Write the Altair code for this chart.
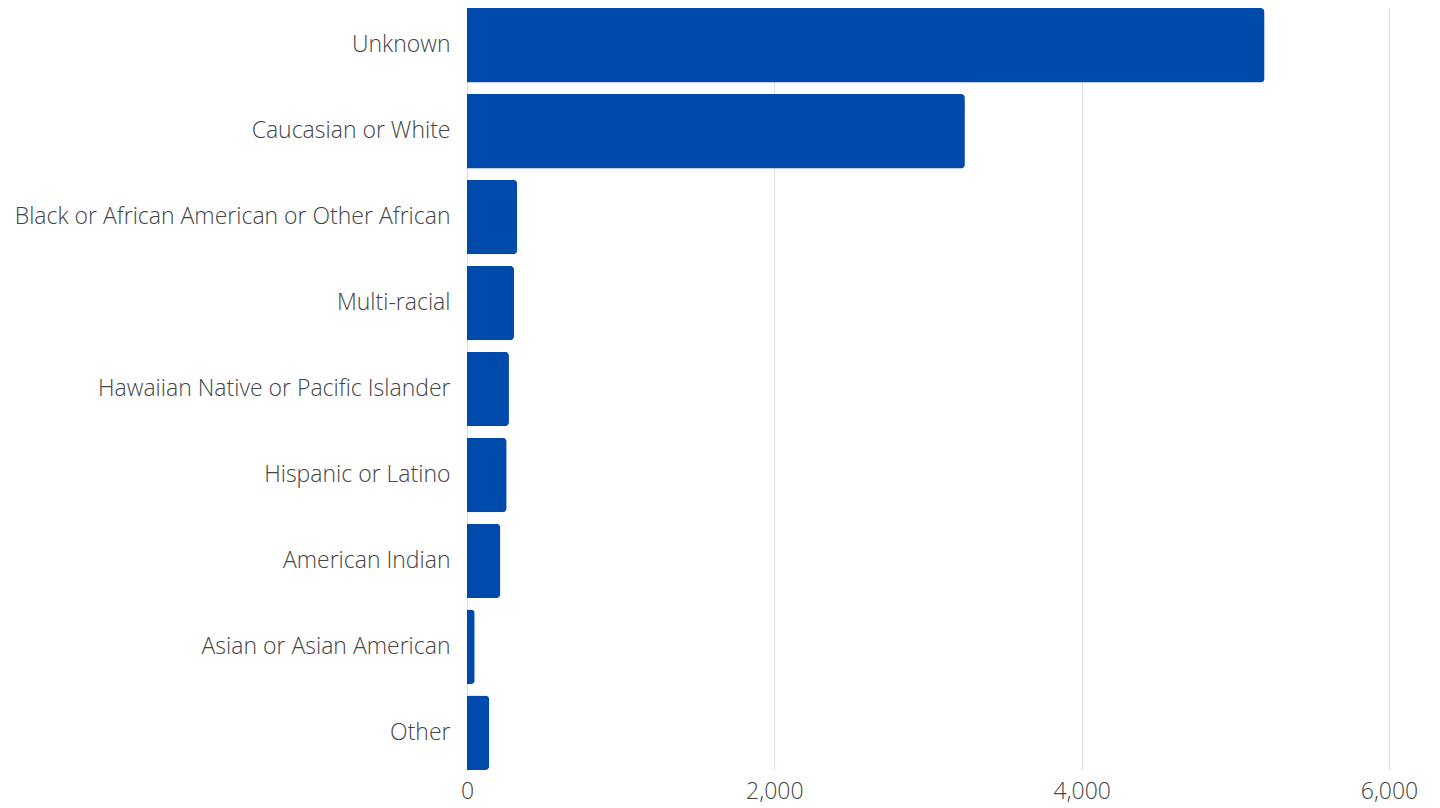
import altair as alt
import pandas as pd

categories = [
    "Unknown",
    "Caucasian or White",
    "Black or African American or Other African",
    "Multi-racial",
    "Hawaiian Native or Pacific Islander",
    "Hispanic or Latino",
    "American Indian",
    "Asian or Asian American",
    "Other",
]
counts = [5190, 3240, 327, 306, 273, 258, 217, 50, 145]

df = pd.DataFrame({"category": categories, "count": counts})

chart = (
    alt.Chart(df)
    .mark_bar(color="#004AAC", cornerRadiusEnd=4)
    .encode(
        y=alt.Y(
            "category:N",
            sort=categories,
            title=None,
            scale=alt.Scale(paddingInner=0.134, paddingOuter=0),
            axis=alt.Axis(
                ticks=False,
                domain=False,
                labelPadding=17,
                labelFont="Open Sans",
                labelFontSize=23,
                labelFontWeight=300,
                labelColor="#444444",
                labelLimit=600,
            ),
        ),
        x=alt.X(
            "count:Q",
            title=None,
            scale=alt.Scale(domain=[0, 6000], nice=False),
            axis=alt.Axis(
                values=[0, 2000, 4000, 6000],
                format=",.0f",
                ticks=False,
                domain=False,
                grid=True,
                gridColor="#dddddd",
                labelPadding=10,
                labelFont="Open Sans",
                labelFontSize=23,
                labelFontWeight=300,
                labelColor="#444444",
                labelFlush=False,
            ),
        ),
    )
    .properties(
        width=922,
        height=762,
        autosize=alt.AutoSizeParams(type="none"),
        padding={"left": 459, "top": 0, "right": 43, "bottom": 34},
    )
    .configure_view(stroke=None)
)

chart.save("out.html", embed_options={"renderer": "svg", "actions": False})
